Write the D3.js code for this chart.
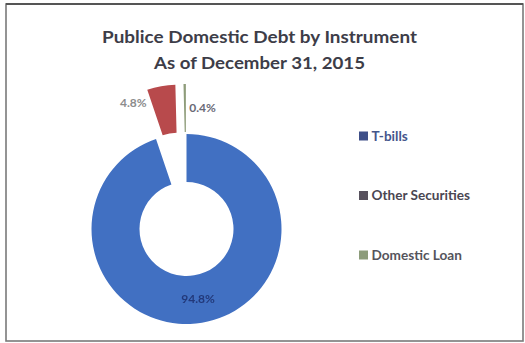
<!DOCTYPE html>
<html>
<head>
<meta charset="utf-8">
<script src="https://cdn.jsdelivr.net/npm/d3@7"></script>
<style>
  html, body { margin: 0; padding: 0; background: #ffffff; }
  svg { display: block; }
</style>
</head>
<body>
<script>
// Data: share of public domestic debt by instrument (percent)
const categories = ["T-bills", "Other Securities", "Domestic Loan"];
const shares = [94.8, 4.8, 0.4];
const shareLabels = ["94.8%", "4.8%", "0.4%"];
const titleLines = ["Publice Domestic Debt by Instrument", "As of December 31, 2015"];

const W = 525, H = 343;
const sliceColors = ["#4170c2", "#b84a4c", "#8e9c7a"];
const legendSwatch = ["#3e4f88", "#58525e", "#8c9c7a"];
const legendText = ["#45568c", "#4a4652", "#55545c"];
const labelColors = ["#22397a", "#8c8c8c", "#6a6a76"];

const svg = d3.select("body").append("svg")
  .attr("width", W).attr("height", H);

svg.append("defs").append("filter").attr("id", "soft")
  .append("feGaussianBlur").attr("stdDeviation", 0.6);

// Chart frame
svg.append("rect").attr("x", 6).attr("y", 4).attr("width", 517).attr("height", 337)
  .attr("fill", "#ffffff").attr("stroke", "#7a7a7a").attr("stroke-width", 1.6);
svg.append("line").attr("x1", 6).attr("x2", 523).attr("y1", 4).attr("y2", 4)
  .attr("stroke", "#555").attr("stroke-width", 2.2);

// Title
const title = svg.append("g")
  .attr("font-family", "Lato, 'Open Sans', sans-serif")
  .attr("font-weight", "bold").attr("fill", "#3d3d48")
  .attr("text-anchor", "middle");
title.append("text").attr("x", 259.5).attr("y", 43).attr("font-size", 17)
  .attr("textLength", 315).attr("lengthAdjust", "spacingAndGlyphs").text(titleLines[0]);
title.append("text").attr("x", 259.5).attr("y", 69).attr("font-size", 17)
  .attr("textLength", 211).attr("lengthAdjust", "spacingAndGlyphs").text(titleLines[1]);

// Doughnut
const cx = 186.5, cy = 229, rOuter = 95, rInner = 47, explode = 50;
const pie = d3.pie().sort(null).value(d => d).startAngle(0).endAngle(2 * Math.PI);
const arcs = pie(shares);
const arc = d3.arc().innerRadius(rInner).outerRadius(rOuter);
const explodeBy = [0, explode, explode];

function offset(d, i) {
  const a = (d.startAngle + d.endAngle) / 2;
  return [Math.sin(a) * explodeBy[i], -Math.cos(a) * explodeBy[i]];
}

const donut = svg.append("g").attr("transform", `translate(${cx},${cy})`);
donut.selectAll("path").data(arcs).join("path")
  .attr("d", arc)
  .attr("transform", (d, i) => { const o = offset(d, i); return `translate(${o[0]},${o[1]})`; })
  .attr("fill", (d, i) => sliceColors[i]);

// Data labels
const labelShift = [[0, 0], [-32, -7], [17.5, 0]];
donut.selectAll("text.lbl").data(arcs).join("text")
  .attr("class", "lbl")
  .attr("x", (d, i) => arc.centroid(d)[0] + offset(d, i)[0] + labelShift[i][0])
  .attr("y", (d, i) => arc.centroid(d)[1] + offset(d, i)[1] + labelShift[i][1])
  .attr("dy", "0.35em")
  .attr("text-anchor", "middle")
  .attr("font-family", "Lato, 'Open Sans', sans-serif")
  .attr("font-weight", "bold")
  .attr("font-size", 12)
  .attr("fill", (d, i) => labelColors[i])
  .attr("filter", (d, i) => i === 0 ? "url(#soft)" : null)
  .text((d, i) => shareLabels[i]);

// Legend
const legendY = d3.scalePoint().domain(categories).range([136, 255]);
const legend = svg.append("g");
const items = legend.selectAll("g").data(categories).join("g")
  .attr("transform", d => `translate(359,${legendY(d)})`);
items.append("rect").attr("x", 0).attr("y", -4.5).attr("width", 9).attr("height", 9)
  .attr("fill", (d, i) => legendSwatch[i]);
items.append("text").attr("x", 12.5).attr("y", 0).attr("dy", "0.35em")
  .attr("font-family", "Lato, 'Open Sans', sans-serif")
  .attr("font-weight", "bold").attr("font-size", 13.6)
  .attr("fill", (d, i) => legendText[i])
  .text(d => d);
</script>
</body>
</html>
